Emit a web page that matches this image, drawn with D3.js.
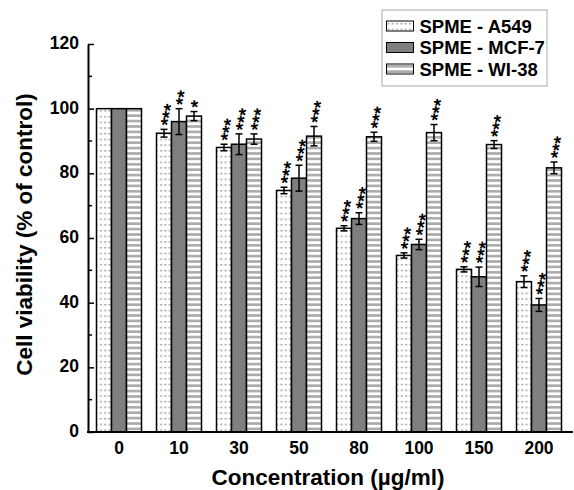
<!DOCTYPE html>
<html>
<head>
<meta charset="utf-8">
<title>Cell viability</title>
<script src="https://d3js.org/d3.v7.min.js"></script>
<style>
  body { margin: 0; padding: 0; background: #fff; }
  text { font-family: "Liberation Sans", Arial, sans-serif; font-weight: bold; fill: #000; }
</style>
</head>
<body>
<div id="graph"></div>
<script>
// data
var concentrations = ["0", "10", "30", "50", "80", "100", "150", "200"];
var seriesNames = ["SPME - A549", "SPME - MCF-7", "SPME - WI-38"];
var a549 = [100, 92.4, 88.0, 74.7, 63.0, 54.6, 50.3, 46.5];
var mcf7 = [100, 96.0, 89.0, 78.5, 66.0, 58.0, 48.0, 39.3];
var wi38 = [100, 97.7, 90.6, 91.5, 91.3, 92.6, 88.9, 81.7];
var a549Err = [0, 1.2, 1.0, 1.0, 0.8, 0.8, 0.8, 1.8];
var mcf7Err = [0, 4.0, 3.2, 4.0, 1.8, 1.6, 3.0, 2.0];
var wi38Err = [0, 1.4, 1.6, 3.0, 1.4, 2.5, 1.2, 1.8];
var a549Sig = ["", "***", "***", "***", "***", "***", "***", "***"];
var mcf7Sig = ["", "**", "***", "***", "***", "***", "***", "***"];
var wi38Sig = ["", "*", "***", "***", "***", "***", "***", "***"];
var yTicks = [0, 20, 40, 60, 80, 100, 120];

var W = 574, H = 490;
var svg = d3.select("#graph").append("svg").attr("width", W).attr("height", H);

// fill patterns
var defs = svg.append("defs");
var dots = defs.append("pattern").attr("id", "dots")
  .attr("patternUnits", "userSpaceOnUse").attr("width", 4.3).attr("height", 5.7);
dots.append("rect").attr("width", 4.3).attr("height", 5.7).attr("fill", "#fff");
dots.append("rect").attr("x", 1).attr("y", 2).attr("width", 2).attr("height", 1.3).attr("fill", "#999");
var stripes = defs.append("pattern").attr("id", "stripes")
  .attr("patternUnits", "userSpaceOnUse").attr("width", 4).attr("height", 5.4);
stripes.append("rect").attr("width", 4).attr("height", 5.4).attr("fill", "#fff");
stripes.append("rect").attr("y", 1).attr("width", 4).attr("height", 2.6).attr("fill", "#aaa");

var fills = ["url(#dots)", "#7f7f7f", "url(#stripes)"];

var plotLeft = 88, plotBottom = 432, plotTop = 44, plotRight = 573;

var x = d3.scaleBand().domain(concentrations).range([89, 569])
  .paddingInner(0.25).paddingOuter(0.125);
var xs = d3.scaleBand().domain(seriesNames).range([0, x.bandwidth()]);
var y = d3.scaleLinear().domain([0, 120]).range([plotBottom, plotTop]);

var series = [
  { name: seriesNames[0], vals: a549, err: a549Err, sig: a549Sig },
  { name: seriesNames[1], vals: mcf7, err: mcf7Err, sig: mcf7Sig },
  { name: seriesNames[2], vals: wi38, err: wi38Err, sig: wi38Sig }
];

var rows = [];
series.forEach(function (s, si) {
  concentrations.forEach(function (c, i) {
    rows.push({ c: c, s: s.name, si: si, v: s.vals[i], e: s.err[i], sig: s.sig[i] });
  });
});

var g = svg.append("g");

// bars
g.selectAll(".bar").data(rows).enter().append("rect")
  .attr("class", "bar")
  .attr("x", function (d) { return x(d.c) + xs(d.s); })
  .attr("y", function (d) { return y(d.v); })
  .attr("width", xs.bandwidth())
  .attr("height", function (d) { return plotBottom - y(d.v); })
  .attr("fill", function (d) { return fills[d.si]; })
  .attr("stroke", "#000").attr("stroke-width", 1.5);

// error bars
var eb = g.selectAll(".err").data(rows.filter(function (d) { return d.e > 0; }))
  .enter().append("g").attr("class", "err")
  .attr("transform", function (d) { return "translate(" + (x(d.c) + xs(d.s) + xs.bandwidth() / 2) + ",0)"; });
eb.append("line").attr("y1", function (d) { return y(d.v + d.e); }).attr("y2", function (d) { return y(d.v - d.e); })
  .attr("stroke", "#000").attr("stroke-width", 1.5);
eb.append("line").attr("x1", -3.5).attr("x2", 3.5)
  .attr("y1", function (d) { return y(d.v + d.e); }).attr("y2", function (d) { return y(d.v + d.e); })
  .attr("stroke", "#000").attr("stroke-width", 1.5);
eb.append("line").attr("x1", -3.5).attr("x2", 3.5)
  .attr("y1", function (d) { return y(d.v - d.e); }).attr("y2", function (d) { return y(d.v - d.e); })
  .attr("stroke", "#000").attr("stroke-width", 1.5);

// significance stars: rotated text, stacked up and slightly to the right
g.selectAll(".sig").data(rows.filter(function (d) { return d.sig; }))
  .enter().append("text").attr("class", "sig")
  .attr("transform", function (d) {
    var cx = x(d.c) + xs(d.s) + xs.bandwidth() / 2 - 1;
    var cy = y(d.v + d.e) - 8;
    return "translate(" + cx + "," + cy + ") rotate(-78)";
  })
  .attr("x", -3.8)
  .attr("dy", "0.58em")
  .style("font-size", "19px")
  .text(function (d) { return d.sig; });

// axes
var yAxis = d3.axisLeft(y).tickValues(yTicks).tickSizeInner(-6).tickSizeOuter(0).tickPadding(9);
var ya = svg.append("g").attr("transform", "translate(" + plotLeft + ",0)").call(yAxis);
ya.select(".domain").attr("stroke-width", 2);
ya.selectAll(".tick line").attr("stroke-width", 1.5);
ya.selectAll("text").style("font-size", "17.5px").attr("dy", "0.25em");
// minor ticks
svg.append("g").selectAll("line").data(d3.range(10, 120, 20)).enter().append("line")
  .attr("x1", plotLeft).attr("x2", plotLeft + 4)
  .attr("y1", function (d) { return y(d); }).attr("y2", function (d) { return y(d); })
  .attr("stroke", "#000").attr("stroke-width", 1.5);

var xAxis = d3.axisBottom(x).tickSize(0).tickPadding(10);
var xa = svg.append("g").attr("transform", "translate(0," + plotBottom + ")").call(xAxis);
xa.select(".domain").remove();
xa.selectAll("text").style("font-size", "17.5px");
svg.append("line").attr("x1", plotLeft - 1).attr("x2", plotRight).attr("y1", plotBottom).attr("y2", plotBottom)
  .attr("stroke", "#000").attr("stroke-width", 2);

// axis titles
svg.append("text").attr("x", 328).attr("y", 485).attr("text-anchor", "middle")
  .style("font-size", "22.5px").text("Concentration (\u00b5g/ml)");
svg.append("text").attr("transform", "translate(32,234.5) rotate(-90)").attr("text-anchor", "middle")
  .style("font-size", "22.5px").text("Cell viability (% of control)");

// legend
var lg = svg.append("g").attr("transform", "translate(382,10)");
lg.append("rect").attr("width", 165).attr("height", 76)
  .attr("fill", "#fff").attr("stroke", "#aaa").attr("stroke-width", 1);
var li = lg.selectAll(".li").data(seriesNames).enter().append("g")
  .attr("transform", function (d, i) { return "translate(4.5," + (11 + i * 21.5) + ")"; });
li.append("rect").attr("width", 27).attr("height", 10)
  .attr("fill", function (d, i) { return fills[i]; })
  .attr("stroke", "#000").attr("stroke-width", 1);
li.append("text").attr("x", 33).attr("y", 11.5).style("font-size", "18.5px").text(function (d) { return d; });
</script>
</body>
</html>
